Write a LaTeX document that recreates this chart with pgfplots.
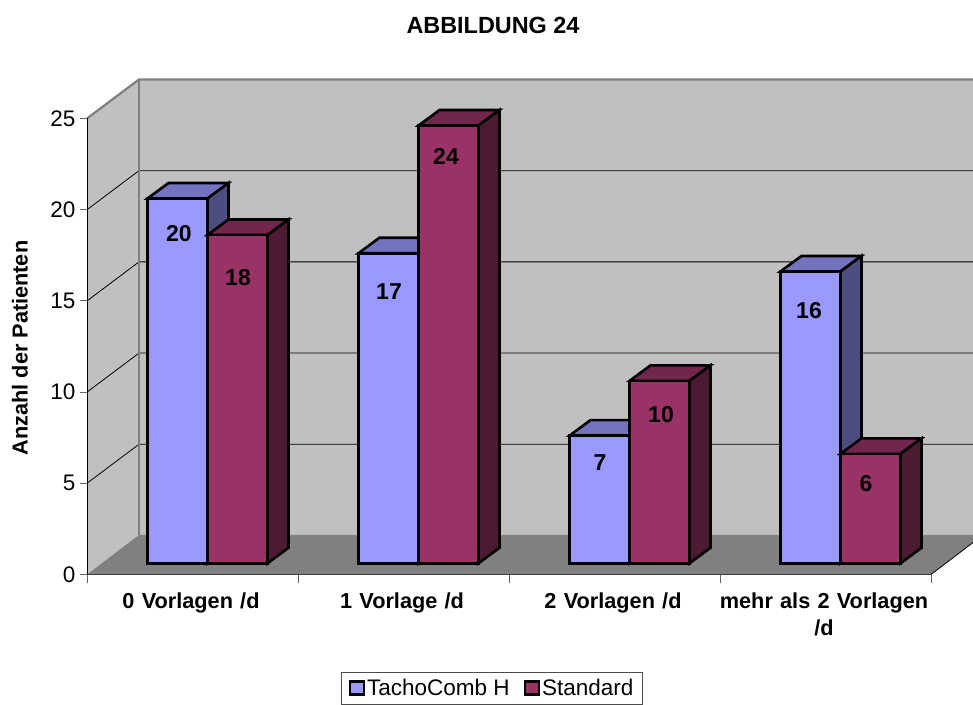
\documentclass[border=0pt]{standalone}
\usepackage{fontspec}
\setmainfont{Liberation Sans}
\usepackage{pgfplots}
\pgfplotsset{compat=1.18}
\definecolor{wall}{HTML}{C0C0C0}
\definecolor{floorc}{HTML}{808080}
\definecolor{tf}{HTML}{9999FF}
\definecolor{tt}{HTML}{7373BF}
\definecolor{ts}{HTML}{4D4D80}
\definecolor{sf}{HTML}{993366}
\definecolor{st}{HTML}{73264D}
\definecolor{ss}{HTML}{4D1A33}
\newcommand{\lab}{\fontsize{22.5}{27}\selectfont}
\newcommand{\blab}{\fontsize{21.7}{27}\selectfont\bfseries}
\newcommand{\tlab}{\fontsize{23.4}{27}\selectfont\bfseries}
\newcommand{\dlab}{\fontsize{23}{27}\selectfont\bfseries}
\newcommand{\sidetop}[5]{%
  \pgfmathsetmacro{\xa}{#2+21}\pgfmathsetmacro{\xb}{#1+21}\pgfmathsetmacro{\yb}{#3+0.85}%
  \addplot[forget plot,draw=black,line width=2.6pt,fill=#4] coordinates {(#1,#3)(#2,#3)(\xa,\yb)(\xb,\yb)} -- cycle;
  \addplot[forget plot,draw=black,line width=2.6pt,fill=#5] coordinates {(#2,#3)(\xa,\yb)(\xa,0.85)(#2,0)} -- cycle;
}
\begin{document}
\begin{tikzpicture}[x=1pt,y=1pt]
\useasboundingbox (0,0) rectangle (973,704);
\clip (0,0) rectangle (973,704);
\begin{axis}[
  at={(87pt,129.5pt)},anchor=south west,scale only axis,width=844pt,height=456pt,
  xmin=0,xmax=844,ymin=0,ymax=25,clip=false,
  axis lines*=left,axis on top,
  x axis line style={draw=black!75,line width=1.6pt,-},
  y axis line style={draw=black,line width=0.8pt,-},
  /pgf/number format/assume math mode=true,
  tick label style={font=\lab},
  ytick={0,5,10,15,20,25},
  xtick={105.5,316.5,527.5,738.5},
  xticklabels={{0 Vorlagen /d},{1 Vorlage /d},{2 Vorlagen /d},{mehr als 2 Vorlagen\\/d}},
  x tick label style={font=\blab,align=center,text width=230pt,yshift=-8pt,xshift=-1.5pt},
  minor xtick={0,211,422,633,844},
  major tick length=7pt,minor tick length=8pt,tick align=outside,
  tick style={draw=black!60,line width=0.8pt},
  major x tick style={draw=none},
  y tick label style={xshift=-1pt},
  ylabel={Anzahl der Patienten},
  every axis y label/.style={at={(axis description cs:-0.0794,0.4967)},rotate=90,anchor=center,font=\blab},
  title={ABBILDUNG 24},
  every axis title/.style={at={(axis description cs:0.481,1.205)},anchor=center,font=\tlab},
]
% walls and floor
\addplot[forget plot,draw=none,fill=wall] coordinates {(52,2.17)(900,2.17)(900,27.14)(52,27.14)} -- cycle;
\addplot[forget plot,draw=none,fill=wall] coordinates {(0,0)(52,2.17)(52,27.14)(0,25)} -- cycle;
\addplot[forget plot,draw=none,fill=floorc] coordinates {(0,0)(844,0)(896,2.17)(52,2.17)} -- cycle;
% grid
\addplot[forget plot,black,line width=0.8pt] coordinates {(0,5)(52,7.14)(900,7.14)};
\addplot[forget plot,black,line width=0.8pt] coordinates {(0,10)(52,12.14)(900,12.14)};
\addplot[forget plot,black,line width=0.8pt] coordinates {(0,15)(52,17.14)(900,17.14)};
\addplot[forget plot,black,line width=0.8pt] coordinates {(0,20)(52,22.14)(900,22.14)};
% edges
\addplot[forget plot,floorc,line width=2.2pt] coordinates {(0,25)(52,27.14)(900,27.14)};
\addplot[forget plot,floorc,line width=2.2pt] coordinates {(52,2.17)(52,27.14)};
\addplot[forget plot,black,line width=0.8pt] coordinates {(844,0)(896,2.17)};
\end{axis}
\begin{axis}[
  at={(102pt,140.7pt)},anchor=south west,scale only axis,width=844pt,height=456pt,
  xmin=0,xmax=844,ymin=0,ymax=25,clip=false,hide axis,
  legend columns=2,
  legend style={at={(axis description cs:0.4621,-0.2735)},anchor=center,
    draw=black!70,line width=0.8pt,fill=white,font=\lab,
    inner xsep=7pt,inner ysep=5pt,
    /tikz/every even column/.style={column sep=12pt}},
  legend image code/.code={\draw[#1,line width=2.4pt,draw=black] (-0.5pt,-6.5pt) rectangle (13.5pt,6.5pt);},
]
% TachoComb H: sides and tops
\sidetop{45.5}{105.5}{20}{tt}{ts}
\sidetop{256.5}{316.5}{17}{tt}{ts}
\sidetop{467.5}{527.5}{7}{tt}{ts}
\sidetop{678.5}{738.5}{16}{tt}{ts}
\addplot[ybar,bar width=60pt,bar shift=-30pt,fill=tf,draw=black,line width=2.6pt]
  coordinates {(105.5,20)(316.5,17)(527.5,7)(738.5,16)};
\addlegendentry{TachoComb H}
% Standard: sides and tops
\sidetop{105.5}{165.5}{18}{st}{ss}
\sidetop{316.5}{376.5}{24}{st}{ss}
\sidetop{527.5}{587.5}{10}{st}{ss}
\sidetop{738.5}{798.5}{6}{st}{ss}
\addplot[ybar,bar width=60pt,bar shift=30pt,fill=sf,draw=black,line width=2.6pt]
  coordinates {(105.5,18)(316.5,24)(527.5,10)(738.5,6)};
\addlegendentry{Standard}
% data labels
\node[font=\dlab] at (axis cs:77,18.05) {20};
\node[font=\dlab] at (axis cs:136,15.64) {18};
\node[font=\dlab] at (axis cs:287,14.87) {17};
\node[font=\dlab] at (axis cs:344,22.33) {24};
\node[font=\dlab] at (axis cs:498,5.5) {7};
\node[font=\dlab] at (axis cs:559,8.13) {10};
\node[font=\dlab] at (axis cs:707,13.83) {16};
\node[font=\dlab] at (axis cs:764,4.35) {6};
\end{axis}
\end{tikzpicture}
\end{document}
